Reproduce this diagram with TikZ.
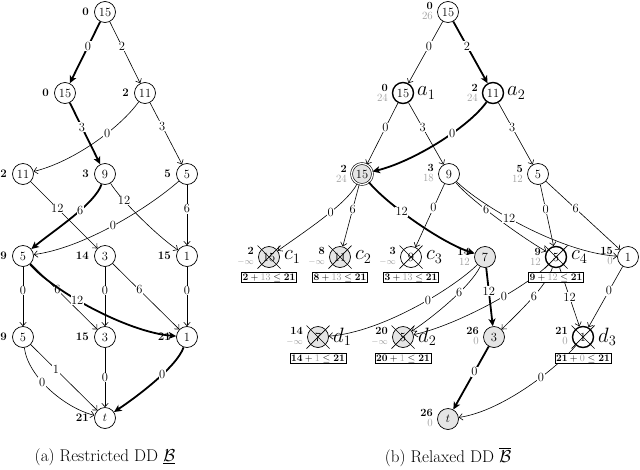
\documentclass[tikz,border=0pt]{standalone}
\usepackage{amsmath,amssymb}
\usetikzlibrary{arrows.meta,calc}
\definecolor{lg}{gray}{0.62}
\definecolor{nf}{gray}{0.9}
\newcommand\vlab[2]{\node[val] (#1v) at ([xshift=-16pt]#1.center) {#2};}
\newcommand\vstack[3]{\node[stk] (#1v) at ([xshift=-15pt,yshift=0.5pt]#1.center) {\textbf{#2}\\\textcolor{lg}{#3}};}
\newcommand\Xnode[1]{\draw[line width=0.7pt] ([shift={(-11.5pt,-11.5pt)}]#1.center) -- ([shift={(11.5pt,11.5pt)}]#1.center) ([shift={(-11.5pt,11.5pt)}]#1.center) -- ([shift={(11.5pt,-11.5pt)}]#1.center);}
\newcommand\minf{{\fontsize{9}{9}\selectfont$-\infty$}}
% curved connector: style, from, to, ctrl offset 1, ctrl offset 2, pos, label
\newcommand\cedge[7]{\draw[#1] (#2) .. controls ($(#2)+(#4)$) and ($(#3)+(#5)$) .. node[lb,pos=#6]{#7} (#3);}
\begin{document}
\begin{tikzpicture}[x=1pt,y=-1pt,
  dd/.style={circle,draw,line width=0.7pt,minimum size=21pt,inner sep=0pt,font=\fontsize{12.5}{14}\selectfont},
  gr/.style={fill=nf},
  thk/.style={line width=1.4pt},
  e/.style={line width=0.6pt,-{Straight Barb[length=3.5pt,width=6.5pt]}},
  be/.style={line width=1.8pt,-{Stealth[length=7.5pt,width=7pt,inset=2pt]}},
  lb/.style={fill=white,inner sep=0.6pt,font=\fontsize{12.5}{14}\selectfont},
  val/.style={anchor=east,inner sep=0pt,font=\fontsize{11.5}{13}\selectfont\bfseries},
  stk/.style={anchor=east,inner sep=0pt,align=right,font=\fontsize{11}{10}\selectfont},
  nm/.style={anchor=west,inner sep=0pt,font=\fontsize{21}{24}\selectfont},
  bx/.style={draw,fill=white,line width=0.5pt,inner sep=1.2pt,font=\fontsize{10}{11}\selectfont},
  captxt/.style={inner sep=0pt,font=\fontsize{17}{20}\selectfont}
]
\useasboundingbox (0,0) rectangle (640,469);
% ---------------- (a) ----------------
\node[dd] (ar) at (105,12) {15};
\node[dd] (aa1) at (65,93) {15};
\node[dd] (aa2) at (145,93) {11};
\node[dd] (ab1) at (23,174) {11};
\node[dd] (ab2) at (105,174) {9};
\node[dd] (ab3) at (187,174) {5};
\node[dd] (ac1) at (23,256) {5};
\node[dd] (ac2) at (105,256) {3};
\node[dd] (ac3) at (187,256) {1};
\node[dd] (ad1) at (23,337) {5};
\node[dd] (ad2) at (105,337) {3};
\node[dd] (ad3) at (187,337) {1};
\node[dd] (at) at (105,418) {$t$};
\vlab{ar}{0}\vlab{aa1}{0}\vlab{aa2}{2}
\vlab{ab1}{2}\vlab{ab2}{3}\vlab{ab3}{5}
\vlab{ac1}{9}\vlab{ac2}{14}\vlab{ac3}{15}
\vlab{ad1}{9}\vlab{ad2}{15}\vlab{ad3}{21}
\vlab{at}{21}
\draw[be] (ar) -- node[lb,pos=0.4]{0} (aa1);
\draw[e] (ar) -- node[lb,pos=0.4]{2} (aa2);
\draw[be] (aa1) -- node[lb,pos=0.4]{3} (ab2);
\cedge{e}{aa2}{ab1}{-25,35}{50,-12}{0.38}{0}
\draw[e] (aa2) -- node[lb,pos=0.38]{3} (ab3);
\draw[e] (ab1) -- node[lb,pos=0.4]{12} (ac2);
\cedge{be}{ab2}{ac1}{-10,30}{30,-25}{0.4}{6}
\cedge{e}{ab2}{ac3}{15,25}{-30,-20}{0.28}{12}
\cedge{e}{ab3}{ac1}{-40,35}{60,-8}{0.5}{0}
\draw[e] (ab3) -- node[lb,pos=0.4]{6} (ac3);
\draw[e] (ac1) -- node[lb,pos=0.4]{0} (ad1);
\draw[e] (ac1) -- node[lb,pos=0.4]{6} (ad2);
\cedge{be}{ac1}{ad3}{30,35}{-60,-5}{0.4}{12}
\draw[e] (ac2) -- node[lb,pos=0.4]{0} (ad2);
\draw[e] (ac2) -- node[lb,pos=0.4]{6} (ad3);
\draw[e] (ac3) -- node[lb,pos=0.4]{0} (ad3);
\draw[e] (ad1) -- node[lb,pos=0.38]{1} (at);
\cedge{e}{ad1}{at}{5,40}{-40,-10}{0.4}{0}
\draw[e] (ad2) -- node[lb,pos=0.5]{0} (at);
\cedge{be}{ad3}{at}{-10,30}{30,-20}{0.4}{0}
\node[captxt] (capa) at (105,457) {(a) Restricted DD $\underline{\mathcal{B}}$};
% ---------------- (b) ----------------
\node[dd] (br) at (448,12) {15};
\node[dd,thk] (ba1) at (403,93) {15};
\node[dd,thk] (ba2) at (493,93) {11};
\node[dd,gr,double,double distance=1.3pt,line width=0.6pt] (bb1) at (362,174) {15};
\node[dd] (bb2) at (449,174) {9};
\node[dd] (bb3) at (538,174) {5};
\node[dd,gr] (bc1) at (269,257) {15};
\node[dd,gr] (bc2) at (340,257) {11};
\node[dd] (bc3) at (411,257) {9};
\node[dd,gr] (bn7) at (485,257) {7};
\node[dd,thk] (bc4) at (556,257) {5};
\node[dd] (bn1) at (628,257) {1};
\node[dd,gr] (bd1) at (318,337) {7};
\node[dd,gr] (bd2) at (403,337) {5};
\node[dd,gr] (bn3) at (494,337) {3};
\node[dd,thk] (bd3) at (583,337) {1};
\node[dd,gr] (bt) at (448,419) {$t$};
\vstack{br}{0}{26}\vstack{ba1}{0}{24}\vstack{ba2}{2}{24}
\vstack{bb1}{2}{24}\vstack{bb2}{3}{18}\vstack{bb3}{5}{12}
\vstack{bc1}{2}{\minf}\vstack{bc2}{8}{\minf}\vstack{bc3}{3}{\minf}
\vstack{bn7}{14}{12}\vstack{bc4}{9}{12}\vstack{bn1}{15}{0}
\vstack{bd1}{14}{\minf}\vstack{bd2}{20}{\minf}\vstack{bn3}{26}{0}
\vstack{bd3}{21}{0}\vstack{bt}{26}{0}
\node[nm] (na1) at ([xshift=14pt]ba1.center) {$a_1$};
\node[nm] (na2) at ([xshift=14pt]ba2.center) {$a_2$};
\node[nm] (nc1) at ([xshift=15pt]bc1.center) {$c_1$};
\node[nm] (nc2) at ([xshift=15pt]bc2.center) {$c_2$};
\node[nm] (nc3) at ([xshift=15pt]bc3.center) {$c_3$};
\node[nm] (nc4) at ([xshift=15pt]bc4.center) {$c_4$};
\node[nm] (nd1) at ([xshift=15pt]bd1.center) {$d_1$};
\node[nm] (nd2) at ([xshift=15pt]bd2.center) {$d_2$};
\node[nm] (nd3) at ([xshift=15pt]bd3.center) {$d_3$};
\draw[e] (br) -- node[lb,pos=0.4]{0} (ba1);
\draw[be] (br) -- node[lb,pos=0.4]{2} (ba2);
\draw[e] (ba1) -- node[lb,pos=0.4]{0} (bb1);
\draw[e] (ba1) -- node[lb,pos=0.4]{3} (bb2);
\cedge{be}{ba2}{bb1}{-25,35}{50,-12}{0.38}{0}
\draw[e] (ba2) -- node[lb,pos=0.4]{3} (bb3);
\cedge{e}{bb1}{bc1}{-15,30}{35,-25}{0.42}{0}
\draw[e] (bb1) -- node[lb,pos=0.4]{6} (bc2);
\cedge{be}{bb1}{bn7}{25,30}{-45,-15}{0.38}{12}
\draw[e] (bb2) -- node[lb,pos=0.38]{0} (bc3);
\cedge{e}{bb2}{bc4}{20,25}{-35,-20}{0.4}{6}
\cedge{e}{bb2}{bn1}{30,30}{-70,-5}{0.42}{12}
\draw[e] (bb3) -- node[lb,pos=0.4]{0} (bc4);
\draw[e] (bb3) -- node[lb,pos=0.4]{6} (bn1);
\cedge{e}{bn7}{bd1}{-30,30}{65,-5}{0.42}{0}
\cedge{e}{bn7}{bd2}{-15,30}{30,-20}{0.38}{6}
\draw[be] (bn7) -- node[lb,pos=0.4]{12} (bn3);
\cedge{e}{bc4}{bd2}{-30,30}{55,-12}{0.4}{0}
\cedge{e}{bc4}{bn3}{-10,30}{25,-25}{0.45}{6}
\draw[e] (bc4) -- node[lb,pos=0.5]{12} (bd3);
\draw[e] (bn1) -- node[lb,pos=0.4]{0} (bd3);
\draw[be] (bn3) -- node[lb,pos=0.4]{0} (bt);
\cedge{e}{bd3}{bt}{-25,30}{55,-8}{0.39}{0}
\Xnode{bc1}\Xnode{bc2}\Xnode{bc3}\Xnode{bc4}
\Xnode{bd1}\Xnode{bd2}\Xnode{bd3}
\node[bx] (xc1) at (269,277.5) {$\mathbf{2}+\textcolor{lg}{13}\leq\mathbf{21}$};
\node[bx] (xc2) at (340,277.5) {$\mathbf{8}+\textcolor{lg}{13}\leq\mathbf{21}$};
\node[bx] (xc3) at (411,277.5) {$\mathbf{3}+\textcolor{lg}{13}\leq\mathbf{21}$};
\node[bx] (xc4) at (556,277.5) {$\mathbf{9}+\textcolor{lg}{12}\leq\mathbf{21}$};
\node[bx] (xd1) at (318,358.5) {$\mathbf{14}+\textcolor{lg}{1}\leq\mathbf{21}$};
\node[bx] (xd2) at (403,358.5) {$\mathbf{20}+\textcolor{lg}{1}\leq\mathbf{21}$};
\node[bx] (xd3) at (583,358.5) {$\mathbf{21}+\textcolor{lg}{0}\leq\mathbf{21}$};
\node[captxt] (capb) at (448,457) {(b) Relaxed DD $\overline{\mathcal{B}}$};
\end{tikzpicture}
\end{document}
